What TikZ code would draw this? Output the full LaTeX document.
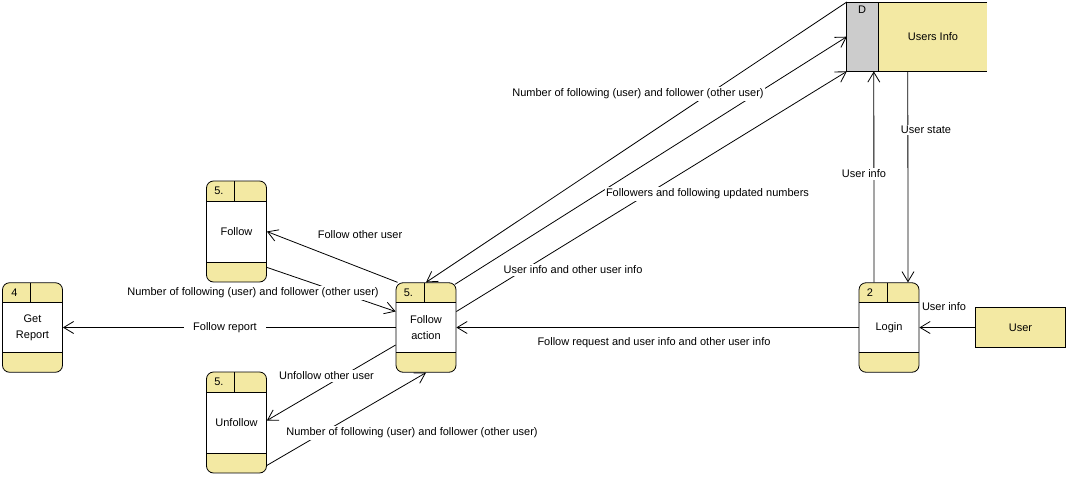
\documentclass[tikz,border=0pt]{standalone}
\usepackage{fontspec}
\setmainfont{Liberation Sans}
\usetikzlibrary{arrows.meta}
\definecolor{dfdyellow}{RGB}{243,233,163}
\definecolor{dfdgray}{RGB}{204,204,204}
\begin{document}
\begin{tikzpicture}[x=1pt,y=-1pt,
  every node/.style={font=\fontsize{11}{16}\selectfont},
  proc/.style={draw, line width=0.8pt, rounded corners=7pt, fill=white,
    minimum width=60pt, inner sep=0pt, align=center,
    path picture={
      \fill[dfdyellow, sharp corners] (path picture bounding box.north west) rectangle ([yshift=-20pt]path picture bounding box.north east);
      \fill[dfdyellow, sharp corners] (path picture bounding box.south west) rectangle ([yshift=20pt]path picture bounding box.south east);
      \draw[line width=0.8pt, sharp corners] ([yshift=-20pt]path picture bounding box.north west) -- ([yshift=-20pt]path picture bounding box.north east);
      \draw[line width=0.8pt, sharp corners] ([yshift=20pt]path picture bounding box.south west) -- ([yshift=20pt]path picture bounding box.south east);
      \draw[line width=0.8pt, sharp corners] ([xshift=28pt]path picture bounding box.north west) -- ([xshift=28pt,yshift=-20pt]path picture bounding box.north west);
    }},
  num/.style={anchor=west, inner sep=0pt},
  flow/.style={draw, line width=0.8pt, -{Straight Barb[length=10pt,width=12pt,line width=0.8pt]}},
  lbl/.style={fill=white, inner sep=1.5pt},
  plain/.style={inner sep=1pt},
  ext/.style={draw, line width=0.8pt, fill=dfdyellow, minimum width=89.6pt, minimum height=40pt, inner sep=0pt}
]
\useasboundingbox[fill=white] (0,0) rectangle (1069,477);

% processes
\node[proc, minimum height=89.5pt] (getreport) at (32.5,327.5) {Get\\Report};
\node[num] (n4) at ([xshift=9pt,yshift=-10pt]getreport.north west) {4};
\node[proc, minimum height=101pt] (follow) at (236.5,231.5) {Follow};
\node[num] (n5a) at ([xshift=8pt,yshift=-10pt]follow.north west) {5.};
\node[proc, minimum height=101pt] (unfollow) at (236.5,422.5) {Unfollow};
\node[num] (n5b) at ([xshift=8pt,yshift=-10pt]unfollow.north west) {5.};
\node[proc, minimum height=89.5pt] (faction) at (426,327.5) {Follow\\action};
\node[num] (n5c) at ([xshift=8pt,yshift=-10pt]faction.north west) {5.};
\node[proc, minimum height=89.5pt] (login) at (889,327.5) {Login};
\node[num] (n2) at ([xshift=8pt,yshift=-10pt]login.north west) {2};

% external entity
\node[ext] (user) at (1020.5,327.5) {User};

% data store
\node[fill=dfdyellow, minimum width=140pt, minimum height=69pt, inner sep=0pt] (usersinfo) at (917,36.7) {};
\fill[dfdgray] (usersinfo.north west) rectangle ([xshift=32pt]usersinfo.south west);
\draw[line width=0.8pt] (usersinfo.north east) -- (usersinfo.north west) -- (usersinfo.south west) -- (usersinfo.south east);
\draw[line width=0.8pt] ([xshift=32pt]usersinfo.north west) -- ([xshift=32pt]usersinfo.south west);
\node[inner sep=0pt] (dlabel) at (862,10) {D};
\node[inner sep=0pt] (uitext) at (933,37) {Users Info};

% flows
\draw[flow] (faction.west) -- (getreport.east);
\draw[flow] ([xshift=2pt]faction.north west) -- (follow.east);
\draw[flow] ([yshift=15pt]follow.south east) -- ([yshift=16pt]faction.west);
\draw[flow] ([yshift=-17.5pt]faction.west) -- ([yshift=2pt]unfollow.east);
\draw[flow] ([yshift=8pt]unfollow.south east) -- (faction.south);
\draw[flow] (login.west) -- (faction.east);
\draw[flow] (user.west) -- (login.east);
\draw[flow] ([xshift=-15pt]login.north) -- ([xshift=27pt]usersinfo.south west);
\draw[flow] ([xshift=61pt]usersinfo.south west) -- ([xshift=19pt]login.north);
\draw[flow] (usersinfo.north west) -- (faction.north);
\draw[flow] ([xshift=-1.5pt,yshift=-2pt]faction.north east) -- (usersinfo.west);
\draw[flow] ([yshift=16pt]faction.east) -- (usersinfo.south west);

% labels
\node[lbl, inner xsep=9pt] (l1) at (225,327.5) {Follow report};
\node[plain] (l2) at (360,235) {Follow other user};
\node[lbl] (l3) at (253,293) {Number of following (user) and follower (other user)};
\node[lbl] (l4) at (326.5,376) {Unfollow other user};
\node[lbl] (l5) at (412,433) {Number of following (user) and follower (other user)};
\node[plain] (l6) at (654,343) {Follow request and user info and other user info};
\node[plain] (l7) at (944,307) {User info};
\node[lbl] (l8) at (864,174) {User info};
\node[lbl] (l9) at (926,130) {User state};
\node[lbl] (l10) at (638,94) {Number of following (user) and follower (other user)};
\node[lbl] (l11) at (707.5,194) {Followers and following updated numbers};
\node[lbl] (l12) at (573,270) {User info and other user info};
\end{tikzpicture}
\end{document}
